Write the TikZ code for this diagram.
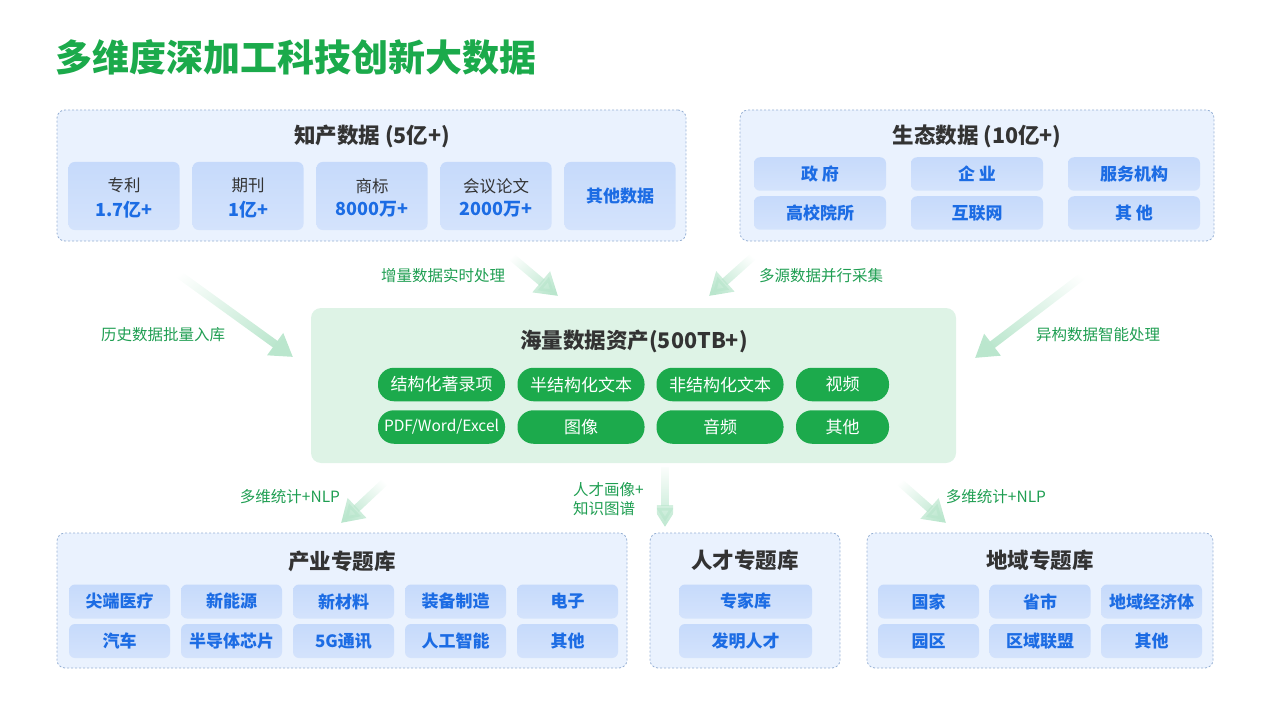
\documentclass[tikz,border=0pt]{standalone}
\usepackage{fontspec}
\setmainfont{Noto Sans CJK SC}
\usepackage{xcolor}
\usepackage{tikz}
\usetikzlibrary{arrows.meta, fadings, positioning}

\definecolor{titlegreen}{RGB}{27,170,75}
\definecolor{panelfill}{RGB}{234,242,254}
\definecolor{panelborder}{RGB}{150,176,212}
\definecolor{celltop}{RGB}{198,218,251}
\definecolor{cellbot}{RGB}{212,227,252}
\definecolor{textblue}{RGB}{28,108,228}
\definecolor{textdark}{RGB}{51,51,51}
\definecolor{assetfill}{RGB}{222,243,230}
\definecolor{pillgreen}{RGB}{28,170,76}
\definecolor{flowgreen}{RGB}{186,230,205}
\definecolor{labelgreen}{RGB}{31,158,82}

\tikzset{
  panel/.style={draw=panelborder, dash pattern=on 2pt off 2pt, line width=0.8pt,
    fill=panelfill, rounded corners=8pt, inner sep=0pt},
  paneltitle/.style={text=textdark, inner sep=0pt,
    font=\bfseries\fontsize{21.5}{24}\selectfont},
  cell/.style={top color=celltop, bottom color=cellbot, rounded corners=6pt,
    inner sep=0pt, align=center},
  bluetext/.style={text=textblue, font=\bfseries\fontsize{17}{20}\selectfont},
  pill/.style={fill=pillgreen, text=white, rounded corners=16pt, inner sep=0pt,
    minimum height=33.5pt, font=\fontsize{17}{20}\selectfont},
  flowarrow/.style={draw=flowgreen, line width=8pt,
    -{Triangle[length=22pt,width=26pt]}, path fading=west, fading angle=#1},
  flowlabel/.style={text=labelgreen, inner sep=0pt,
    font=\fontsize{15.5}{19}\selectfont},
}

\begin{document}
\begin{tikzpicture}[x=1pt, y=-1pt]
    \useasboundingbox (0,0) rectangle (1266,714);

    % 1. Title
    \node[anchor=west, inner sep=0pt, text=titlegreen,
          font=\bfseries\fontsize{37}{40}\selectfont] (mainTitle) at (55,57) {多维度深加工科技创新大数据};

    % 2. Source panels
    \node[panel, minimum width=629pt, minimum height=131pt] (ipPanel) at (371.5,175.5) {};
    \node[paneltitle] (ipTitle) at (372,136) {知产数据 (5亿+)};
    \foreach \name/\val [count=\i] in {专利/1.7亿+, 期刊/1亿+, 商标/8000万+, 会议论文/2000万+} {
        \node[cell, minimum width=111pt, minimum height=68pt] (ip\i) at ({124+(\i-1)*124},196)
            {};
        \node[inner sep=0pt, align=center] (ipText\i) at ({124+(\i-1)*124},198)
            {{\color{textdark}\fontsize{16.5}{24}\selectfont \name}\\[7pt]
             {\color{textblue}\bfseries\fontsize{18}{24}\selectfont \val}};
    }
    \node[cell, bluetext, minimum width=111pt, minimum height=68pt] (ip5) at (620,196) {其他数据};

    \node[panel, minimum width=474pt, minimum height=131pt] (ecoPanel) at (977,175.5) {};
    \node[paneltitle] (ecoTitle) at (977,136) {生态数据 (10亿+)};
    \foreach \lbl/\col/\row in {政 府/0/0, 企 业/1/0, 服务机构/2/0, 高校院所/0/1, 互联网/1/1, 其 他/2/1} {
        \node[cell, bluetext, minimum width=132pt, minimum height=33.5pt] (eco-\col-\row)
            at ({820+\col*157},{174+\row*39}) {\lbl};
    }

    % 3. Data assets
    \node[fill=assetfill, rounded corners=10pt, minimum width=645pt, minimum height=155pt] (assetPanel) at (633.5,385.5) {};
    \node[paneltitle] (assetTitle) at (634,341) {海量数据资产(500TB+)};
    \foreach \lbl/\cx/\cy/\w in {结构化著录项/441.5/384.5/127pt, 半结构化文本/581/384.5/127pt,
                                 非结构化文本/720/384.5/127pt, 视频/842.5/384.5/93pt,
                                 图像/581/427/127pt, 音频/720/427/127pt, 其他/842.5/427/93pt} {
        \node[pill, minimum width=\w] (pill-\cx-\cy) at (\cx,\cy) {\lbl};
    }
    \node[pill, minimum width=127pt, font=\fontsize{15.5}{18}\selectfont] (pillOffice) at (441.5,427) {PDF/Word/Excel};

    % 4. Flows in
    \coordinate (histTail) at (163,263);   \coordinate (histHead) at (293,357);
    \coordinate (incTail) at (507,253);    \coordinate (incHead) at (558,296);
    \coordinate (multiTail) at (757,253);  \coordinate (multiHead) at (709,296);
    \coordinate (heteroTail) at (1097,265);\coordinate (heteroHead) at (975,358);
    \draw[flowarrow=-45] (histTail) -- (histHead);
    \draw[flowarrow=-45] (incTail) -- (incHead);
    \draw[flowarrow=-135] (multiTail) -- (multiHead);
    \draw[flowarrow=-135] (heteroTail) -- (heteroHead);
    \node[flowlabel] (histLabel) at (163,335) {历史数据批量入库};
    \node[flowlabel] (incLabel) at (443,276) {增量数据实时处理};
    \node[flowlabel] (multiLabel) at (821,276) {多源数据并行采集};
    \node[flowlabel] (heteroLabel) at (1098,335) {异构数据智能处理};

    % 5. Flows out
    \coordinate (indTail) at (389,478);    \coordinate (indHead) at (341,523);
    \coordinate (talTail) at (665,467);    \coordinate (talHead) at (665,527);
    \coordinate (regTail) at (895,478);    \coordinate (regHead) at (946,523);
    \draw[flowarrow=-135] (indTail) -- (indHead);
    \draw[flowarrow=-90] (talTail) -- (talHead);
    \draw[flowarrow=-45] (regTail) -- (regHead);
    \node[flowlabel] (indLabel) at (290,497) {多维统计+NLP};
    \node[flowlabel, anchor=west, align=left] (talLabel) at (573,499) {人才画像+\\知识图谱};
    \node[flowlabel] (regLabel) at (996,497) {多维统计+NLP};

    % 6. Topic libraries
    \node[panel, minimum width=570pt, minimum height=135pt] (industryPanel) at (342,600.5) {};
    \node[paneltitle] (industryTitle) at (342,561) {产业专题库};
    \foreach \lbl/\col/\row in {尖端医疗/0/0, 新能源/1/0, 新材料/2/0, 装备制造/3/0, 电子/4/0,
                                汽车/0/1, 半导体芯片/1/1, 5G通讯/2/1, 人工智能/3/1, 其他/4/1} {
        \node[cell, bluetext, minimum width=101pt, minimum height=34pt] (ind-\col-\row)
            at ({119.5+\col*112},{601.5+\row*39.5}) {\lbl};
    }

    \node[panel, minimum width=190pt, minimum height=135pt] (talentPanel) at (745,600.5) {};
    \node[paneltitle] (talentTitle) at (745,560) {人才专题库};
    \node[cell, bluetext, minimum width=133pt, minimum height=34pt] (tal-0) at (745.5,601.5) {专家库};
    \node[cell, bluetext, minimum width=133pt, minimum height=34pt] (tal-1) at (745.5,641) {发明人才};

    \node[panel, minimum width=346pt, minimum height=135pt] (regionPanel) at (1040,600.5) {};
    \node[paneltitle] (regionTitle) at (1040,560) {地域专题库};
    \foreach \lbl/\col/\row in {国家/0/0, 省市/1/0, 地域经济体/2/0, 园区/0/1, 区域联盟/1/1, 其他/2/1} {
        \node[cell, bluetext, minimum width=101pt, minimum height=34pt] (reg-\col-\row)
            at ({928.5+\col*111.5},{601.5+\row*39.5}) {\lbl};
    }
\end{tikzpicture}
\end{document}
